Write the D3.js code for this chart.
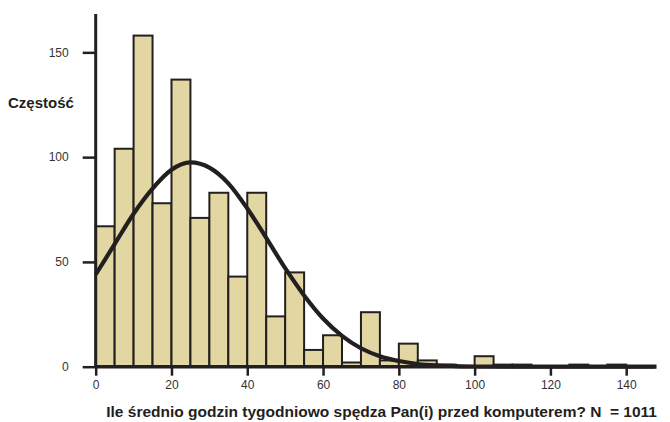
<!DOCTYPE html>
<html>
<head>
<meta charset="utf-8">
<script src="https://cdn.jsdelivr.net/npm/d3@7"></script>
<style>
  body { margin: 0; background: #fff; }
  svg { display: block; font-family: "Liberation Sans", Arial, sans-serif; }
</style>
</head>
<body>
<div id="chart"></div>
<script>
// histogram bins (width 5 h), counts
var binStart = [0, 5, 10, 15, 20, 25, 30, 35, 40, 45, 50, 55, 60, 65, 70, 75, 80, 85, 90, 95, 100, 105, 110, 115, 120, 125, 130, 135, 140];
var counts   = [67, 104, 158, 78, 137, 71, 83, 43, 83, 24, 45, 8, 15, 2, 26, 3, 11, 3, 1, 0, 5, 1, 1, 0, 0, 1, 0, 1, 0];

// normal curve, points
var curveX = [0, 5, 10, 15, 20, 25, 30, 35, 40, 45, 50, 55, 60, 65, 70, 75, 80, 85, 90, 95, 100, 110, 120, 130, 140, 148];
var curveY = [44, 58.5, 73, 85, 94, 97.5, 95, 87.5, 75.5, 61.5, 47, 34, 23, 14.7, 8.8, 5, 2.7, 1.3, 0.6, 0.3, 0.1, 0, 0, 0, 0, 0];

var xTicks = [0, 20, 40, 60, 80, 100, 120, 140];
var yTicks = [0, 50, 100, 150];

var binWidth = 5;
var W = 670, H = 422;
var ink = "#231f20";

var svg = d3.select("#chart").append("svg")
    .attr("width", W)
    .attr("height", H);

var x = d3.scaleLinear().domain([0, 147.6]).range([95.7, 655]);
var y = d3.scaleLinear().domain([0, 168.3]).range([366.7, 14]);

// bars
svg.append("g").selectAll("rect")
    .data(counts)
    .enter()
    .append("rect")
    .attr("x", function(d, i){ return x(binStart[i]); })
    .attr("width", function(d, i){ return x(binStart[i] + binWidth) - x(binStart[i]); })
    .attr("y", function(d){ return y(d); })
    .attr("height", function(d){ return y(0) - y(d); })
    .style("fill", "#e2d7a2")
    .style("stroke", ink)
    .style("stroke-width", 2);

// normal curve
var line = d3.line()
    .x(function(d, i){ return x(curveX[i]); })
    .y(function(d){ return y(d); })
    .curve(d3.curveMonotoneX);

svg.append("path")
    .datum(curveY)
    .attr("d", line)
    .style("fill", "none")
    .style("stroke", ink)
    .style("stroke-width", 4.2);

// axes
var xAxis = svg.append("g")
    .attr("transform", "translate(0," + y(0) + ")")
    .call(d3.axisBottom(x).tickValues(xTicks).tickSize(9).tickPadding(5).tickFormat(d3.format("d")));

var yAxis = svg.append("g")
    .attr("transform", "translate(" + x(0) + ",0)")
    .call(d3.axisLeft(y).tickValues(yTicks).tickSize(13).tickPadding(14).tickFormat(d3.format("d")));

[xAxis, yAxis].forEach(function(a){
  a.select(".domain").remove();
  a.selectAll(".tick line").style("stroke", ink).style("stroke-width", 2.5);
  a.selectAll(".tick text").style("font-size", "12px").style("fill", "#333").style("font-family", "'Liberation Sans', Arial, sans-serif");
});

// axis lines drawn on top
svg.append("line")
    .attr("x1", x(0)).attr("x2", x(0))
    .attr("y1", y(168.3)).attr("y2", y(0) + 1)
    .style("stroke", ink).style("stroke-width", 3);

svg.append("line")
    .attr("x1", x(0)).attr("x2", x(147.6))
    .attr("y1", y(0)).attr("y2", y(0))
    .style("stroke", ink).style("stroke-width", 3.5);

// titles
svg.append("text")
    .attr("x", 8)
    .attr("y", 108)
    .text("Częstość")
    .style("font-size", "15px")
    .style("font-weight", "bold")
    .style("fill", ink);

svg.append("text")
    .attr("x", 657)
    .attr("y", 417)
    .attr("text-anchor", "end")
    .text("Ile średnio godzin tygodniowo spędza Pan(i) przed komputerem? N  = 1011")
    .style("font-size", "15.5px")
    .style("font-weight", "bold")
    .style("fill", ink)
    .style("white-space", "pre");
</script>
</body>
</html>
